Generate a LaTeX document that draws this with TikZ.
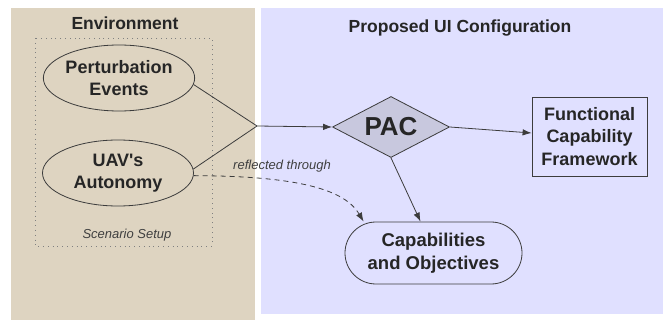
\documentclass[tikz,border=0pt]{standalone}
\usepackage{fontspec}
\setmainfont{Liberation Sans}
\usetikzlibrary{shapes.geometric,arrows.meta,calc}
\definecolor{envbg}{RGB}{222,212,193}
\definecolor{uibg}{RGB}{224,224,255}
\definecolor{pacfill}{RGB}{200,200,222}
\definecolor{ln}{RGB}{60,60,60}
\tikzset{
  lbl/.style={font=\fontsize{18}{22.5}\selectfont\bfseries, align=center, text=black!85},
  ell/.style={ellipse, draw=ln, line width=0.8pt, inner sep=0pt, lbl},
  conn/.style={draw=ln, line width=0.8pt},
  arr/.style={conn, -{Latex[length=9pt,width=6.5pt]}},
  small/.style={font=\fontsize{13}{15}\selectfont\itshape, text=black!75, inner sep=0pt, anchor=base},
  title/.style={font=\fontsize{17.5}{21}\selectfont\bfseries, text=black!85, inner sep=0pt, anchor=base},
}
\begin{document}
\begin{tikzpicture}[x=1pt,y=-1pt]
\useasboundingbox (0,0) rectangle (663,320);
\fill[white] (0,0) rectangle (663,320);
\fill[envbg] (11,8) rectangle (255,320);
\fill[uibg] (261,8) rectangle (663,314);
\node[title] (envt) at (125,30) {Environment};
\node[title] (uit) at (460,33) {Proposed UI Configuration};
\draw[gray, line width=0.8pt, dash pattern=on 0.8pt off 4pt] (35,38) rectangle (212,246);
\node[small] (scen) at (127,239) {Scenario Setup};
\node[ell, minimum width=142pt, minimum height=66pt] (P) at (119,78) {Perturbation\\Events};
\node[ell, minimum width=151pt, minimum height=66pt] (U) at (118,173) {UAV\textquotesingle s\\Autonomy};
\node[diamond, draw=ln, fill=pacfill, line width=0.8pt, inner sep=0pt, aspect=1.9,
      minimum width=117pt, minimum height=61pt, font=\fontsize{26}{30}\selectfont\bfseries, text=black!85] (PAC) at (391,127) {PAC};
\node[draw=ln, line width=0.8pt, rectangle, minimum width=115pt, minimum height=79pt, inner sep=0pt, lbl] (F) at (589.5,136.5) {Functional\\Capability\\Framework};
\node[draw=ln, line width=0.8pt, rectangle, rounded corners=31pt, minimum width=177pt, minimum height=62pt, inner sep=0pt, lbl, font=\fontsize{18.5}{23}\selectfont\bfseries] (C) at (433.5,253) {Capabilities\\and Objectives};
\coordinate (J) at (257,126);
\draw[conn] (P.-5) -- (J);
\draw[conn] (U.3) -- (J);
\draw[arr] (J) -- (PAC.west);
\draw[arr] (PAC.east) -- ($(F.west)+(0,-3.5)$);
\draw[arr] (PAC.south) -- ($(C.north)+(-13,0)$);
\draw[conn, dash pattern=on 5pt off 4pt, -{Latex[length=9pt,width=6.5pt]}] (U.-2) .. controls (300,176) and (345,190) .. ($(C.north west)+(19,0)$);
\node[small] (refl) at (282,170) {reflected through};
\end{tikzpicture}
\end{document}
